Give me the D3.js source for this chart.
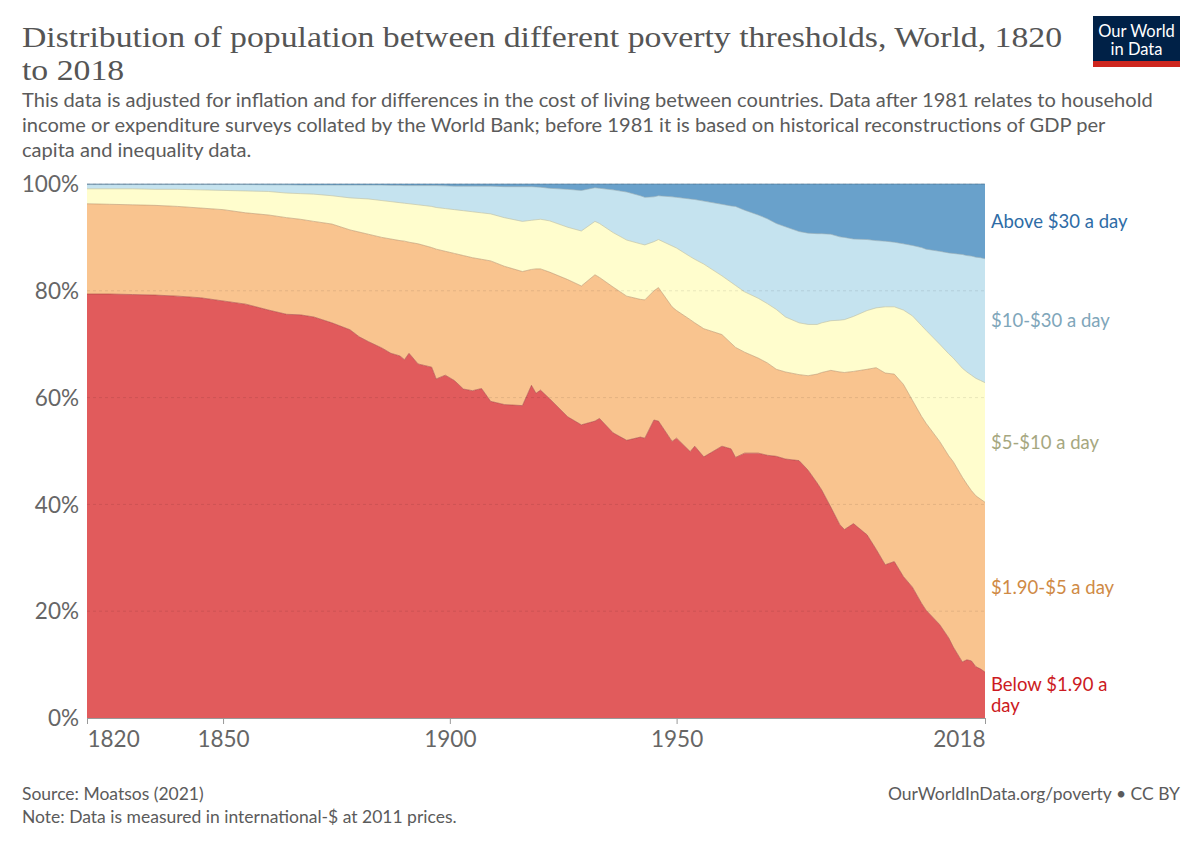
<!DOCTYPE html>
<html>
<head>
<meta charset="utf-8">
<script src="https://cdn.jsdelivr.net/npm/d3@7"></script>
<style>
  body { margin: 0; background: #fff; }
  svg { font-family: Lato, "Noto Sans", sans-serif; }
</style>
</head>
<body>
<svg id="chart" width="1200" height="847"></svg>
<script>
// share of world population living below each threshold (%)
var years = [
  1820, 1825, 1830, 1835, 1840, 1845, 1850, 1855, 1860, 1864,
  1867, 1870, 1874, 1878, 1880, 1882, 1885, 1887, 1889, 1890,
  1891, 1893, 1896, 1897, 1899, 1901, 1903, 1905, 1907, 1909,
  1912, 1916, 1918, 1919, 1920, 1922, 1926, 1929, 1932, 1933,
  1936, 1939, 1942, 1943, 1945, 1946, 1949, 1950, 1953, 1954,
  1956, 1960, 1962, 1963, 1965, 1968, 1970, 1972, 1974, 1977,
  1979, 1981, 1982, 1984, 1986, 1987, 1989, 1992, 1994, 1996,
  1998, 2000, 2002, 2004, 2005, 2008, 2010, 2011, 2013, 2014,
  2015, 2016, 2017, 2018
];
var below190 = [
  79.4, 79.4, 79.3, 79.2, 79.0, 78.7, 78.1, 77.5, 76.4, 75.6,
  75.5, 75.1, 74.0, 72.7, 71.4, 70.5, 69.3, 68.3, 67.8, 67.1,
  68.3, 66.3, 65.7, 63.5, 64.2, 63.2, 61.6, 61.3, 61.7, 59.3,
  58.7, 58.5, 62.3, 60.8, 61.4, 59.8, 56.4, 54.9, 55.6, 56.1,
  53.4, 52.0, 52.6, 52.4, 55.8, 55.6, 51.8, 52.4, 49.9, 50.9,
  48.9, 50.9, 50.4, 48.8, 49.6, 49.6, 49.2, 49.0, 48.5, 48.2,
  46.4, 44.0, 42.7, 39.5, 36.2, 35.3, 36.4, 34.3, 31.6, 28.7,
  29.3, 26.5, 24.5, 21.5, 20.2, 17.5, 15.0, 13.3, 10.5, 10.9,
  10.7, 9.6, 9.2, 8.6
];
var below5 = [
  96.3, 96.2, 96.1, 96.0, 95.8, 95.5, 95.2, 94.6, 94.2, 93.7,
  93.4, 93.0, 92.5, 91.4, 91.0, 90.6, 90.0, 89.7, 89.4, 89.3,
  89.1, 88.8, 88.1, 87.8, 87.4, 87.0, 86.6, 86.2, 85.9, 85.6,
  84.6, 83.6, 84.0, 84.1, 84.1, 83.5, 82.1, 80.9, 83.0, 82.5,
  80.7, 79.0, 78.4, 78.3, 80.0, 80.6, 77.0, 76.3, 74.6, 74.0,
  72.9, 71.8, 70.2, 69.4, 68.5, 67.4, 66.5, 65.3, 64.8, 64.3,
  64.1, 64.4, 64.7, 65.1, 64.8, 64.7, 64.9, 65.3, 65.6, 64.6,
  64.4, 62.5, 59.5, 56.5, 55.2, 51.8, 49.1, 48.0, 45.1, 43.8,
  42.6, 41.6, 41.0, 40.4
];
var below10 = [
  99.1, 99.1, 99.1, 99.0, 99.0, 98.9, 98.8, 98.7, 98.6, 98.3,
  98.2, 98.1, 97.8, 97.4, 97.3, 97.2, 96.9, 96.7, 96.5, 96.4,
  96.3, 96.1, 95.8, 95.6, 95.4, 95.2, 95.0, 94.8, 94.6, 94.4,
  93.7, 93.0, 93.2, 93.3, 93.4, 93.1, 91.9, 91.2, 93.0, 92.6,
  90.9, 89.5, 88.8, 88.6, 89.2, 89.6, 88.4, 88.0, 86.4, 85.9,
  85.0, 82.8, 81.6, 81.0, 79.8, 78.6, 77.6, 76.5, 75.1, 74.0,
  73.7, 73.7, 74.0, 74.4, 74.5, 74.6, 75.2, 76.3, 76.8, 77.0,
  77.0, 76.4, 75.3, 73.5, 72.6, 70.0, 68.2, 67.4, 65.5, 64.8,
  64.2, 63.6, 63.2, 62.8
];
var below30 = [
  99.9, 99.9, 99.9, 99.9, 99.9, 99.9, 99.9, 99.9, 99.85, 99.85,
  99.8, 99.8, 99.8, 99.8, 99.8, 99.8, 99.8, 99.75, 99.75, 99.7,
  99.7, 99.7, 99.7, 99.7, 99.65, 99.6, 99.6, 99.6, 99.6, 99.6,
  99.5, 99.5, 99.5, 99.45, 99.4, 99.2, 99.0, 98.8, 99.3, 99.2,
  98.9, 98.5, 97.8, 97.5, 97.6, 97.8, 97.6, 97.5, 97.2, 97.1,
  96.8, 96.2, 95.9, 95.8, 95.1, 94.2, 93.5, 92.6, 92.0, 91.1,
  90.8, 90.7, 90.7, 90.6, 90.1, 90.0, 89.7, 89.6, 89.4, 89.3,
  89.1, 88.8, 88.5, 88.1, 87.8, 87.4, 87.1, 87.0, 86.8, 86.6,
  86.5, 86.3, 86.2, 86.0
];

var bandLines = [["Below $1.90 a", "day"], ["$1.90-$5 a day"], ["$5-$10 a day"], ["$10-$30 a day"], ["Above $30 a day"]];
var fills = ["#e15b5c", "#f9c48f", "#fffdcd", "#c5e3ef", "#69a1cb"];
var labelColors = ["#cc1a22", "#cf8a45", "#a6a77f", "#7fa6ba", "#2e6ca6"];
var yTicks = [0, 20, 40, 60, 80, 100];
var xTicks = [1820, 1850, 1900, 1950, 2018];

var margin = {top: 184, right: 215, bottom: 129, left: 87},
    width = 1200 - margin.left - margin.right,
    height = 847 - margin.top - margin.bottom;

var rows = years.map(function(yr, i) {
  return {
    year: yr,
    b0: below190[i],
    b1: below5[i] - below190[i],
    b2: below10[i] - below5[i],
    b3: below30[i] - below10[i],
    b4: 100 - below30[i]
  };
});
var keys = ["b0", "b1", "b2", "b3", "b4"];
var series = d3.stack().keys(keys)(rows);

var x = d3.scaleLinear().domain([1820, 2018]).range([0, width]);
var y = d3.scaleLinear().domain([0, 100]).range([height, 0]);

var svg = d3.select("#chart");

function fitSize(sel, base, target, maxSize) {
  var w = sel.node().getComputedTextLength();
  return Math.min(maxSize, base * target / w);
}

// header: serif title, stretched a little to the width of the original's wider face
var title = svg.append("g")
    .style("font-family", "'Liberation Serif', 'DejaVu Serif', serif")
    .style("font-size", "30px")
    .attr("fill", "#555");
var t1 = title.append("text").attr("x", 22).attr("y", 47)
    .text("Distribution of population between different poverty thresholds, World, 1820");
var t2 = title.append("text").attr("x", 22).attr("y", 80)
    .text("to 2018");
var stretch = 1040 / t1.node().getComputedTextLength();
[t1, t2].forEach(function(t) {
  t.attr("textLength", t.node().getComputedTextLength() * stretch)
   .attr("lengthAdjust", "spacingAndGlyphs");
});

var subLines = [
  "This data is adjusted for inflation and for differences in the cost of living between countries. Data after 1981 relates to household",
  "income or expenditure surveys collated by the World Bank; before 1981 it is based on historical reconstructions of GDP per",
  "capita and inequality data."
];
var sub = svg.append("g").selectAll("text")
    .data(subLines)
  .enter().append("text")
    .attr("x", 22)
    .attr("y", function(d, i) { return 107 + i * 25; })
    .style("font-size", "18px")
    .attr("fill", "#5b5b5b")
    .text(function(d) { return d; });
var subSize = fitSize(d3.select(sub.nodes()[0]), 18, 1131, 20.5);
sub.style("font-size", subSize + "px");

// logo
var logo = svg.append("g").attr("transform", "translate(1093,16)");
logo.append("rect").attr("width", 87).attr("height", 51).attr("fill", "#002147");
logo.append("rect").attr("y", 45).attr("width", 87).attr("height", 6).attr("fill", "#ce261e");
logo.append("text").attr("x", 43.5).attr("y", 21).attr("text-anchor", "middle")
    .style("font-size", "16.5px").attr("fill", "#fff").text("Our World");
logo.append("text").attr("x", 43.5).attr("y", 39).attr("text-anchor", "middle")
    .style("font-size", "16.5px").attr("fill", "#fff").text("in Data");

var g = svg.append("g")
    .attr("transform", "translate(" + margin.left + "," + margin.top + ")");

var area = d3.area()
    .x(function(d) { return x(d.data.year); })
    .y0(function(d) { return y(d[0]); })
    .y1(function(d) { return y(d[1]); });

var topLine = d3.line()
    .x(function(d) { return x(d.data.year); })
    .y(function(d) { return y(d[1]); });

g.selectAll(".band")
    .data(series)
  .enter().append("path")
    .attr("class", "band")
    .attr("d", area)
    .attr("fill", function(d, i) { return fills[i]; });

g.selectAll(".edge")
    .data(series)
  .enter().append("path")
    .attr("class", "edge")
    .attr("d", topLine)
    .attr("fill", "none")
    .attr("stroke", function(d, i) { return d3.color(fills[i]).darker(0.8); })
    .attr("stroke-opacity", 0.6)
    .attr("stroke-width", 1);

// grid
g.selectAll(".grid")
    .data(yTicks)
  .enter().append("line")
    .attr("class", "grid")
    .attr("x1", 0).attr("x2", width)
    .attr("y1", function(d) { return y(d); })
    .attr("y2", function(d) { return y(d); })
    .attr("stroke", "#000")
    .attr("stroke-opacity", function(d) { return d === 0 ? 0 : 0.09; })
    .attr("stroke-dasharray", "3,3");

// y axis labels
g.selectAll(".ylab")
    .data(yTicks)
  .enter().append("text")
    .attr("class", "ylab")
    .attr("x", -8)
    .attr("y", function(d) { return y(d); })
    .attr("dy", "0.36em")
    .attr("text-anchor", "end")
    .style("font-size", "22.5px")
    .attr("fill", "#666")
    .text(function(d) { return d + "%"; });

// x axis
var xAxis = g.append("g")
    .attr("transform", "translate(0," + height + ")")
    .call(d3.axisBottom(x).tickValues(xTicks).tickFormat(d3.format("d")).tickSize(6).tickPadding(7));
xAxis.select(".domain").attr("stroke", "#999");
xAxis.selectAll(".tick line").attr("stroke", "#999");
xAxis.selectAll(".tick text")
    .style("font-size", "22.5px")
    .style("font-family", "Lato, sans-serif")
    .attr("fill", "#666")
    .attr("text-anchor", function(d) { return d === 1820 ? "start" : d === 2018 ? "end" : "middle"; });

// end labels at the middle of each band in the last year
var last = series.map(function(s) { return s[s.length - 1]; });
var lineGap = 20.5;
var labels = g.selectAll(".endlab")
    .data(bandLines)
  .enter().append("text")
    .attr("class", "endlab")
    .attr("x", width + 6)
    .attr("y", function(d, i) {
      var mid = y((last[i][0] + last[i][1]) / 2);
      return mid - (d.length - 1) * lineGap / 2;
    })
    .style("font-size", "18.5px")
    .attr("fill", function(d, i) { return labelColors[i]; });
labels.each(function(d) {
  var t = d3.select(this);
  d.forEach(function(line, j) {
    t.append("tspan")
        .attr("x", width + 6)
        .attr("dy", j === 0 ? "0.35em" : lineGap + "px")
        .text(line);
  });
});

// footer
svg.append("text").attr("x", 22).attr("y", 800)
    .style("font-size", "17.5px").attr("fill", "#5b5b5b")
    .text("Source: Moatsos (2021)");
svg.append("text").attr("x", 22).attr("y", 823)
    .style("font-size", "17.5px").attr("fill", "#5b5b5b")
    .text("Note: Data is measured in international-$ at 2011 prices.");
svg.append("text").attr("x", 1180).attr("y", 800)
    .attr("text-anchor", "end")
    .style("font-size", "17.5px").attr("fill", "#5b5b5b")
    .text("OurWorldInData.org/poverty \u2022 CC BY");
</script>
</body>
</html>
